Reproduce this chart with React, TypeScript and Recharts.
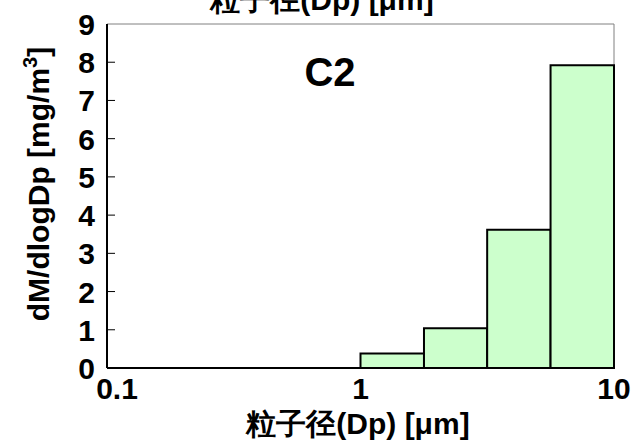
import React from "react";
import {
  ComposedChart,
  Line,
  XAxis,
  YAxis,
  ReferenceArea,
  Label,
} from "recharts";

// quarter-decade bins (µm) and mass concentration per bin
const binLower = [1.0, 1.78, 3.16, 5.62];
const binUpper = [1.78, 3.16, 5.62, 10];
const massValues = [0.38, 1.04, 3.62, 7.92];

const xTicks = [0.1, 1, 10];
const yTicks = [0, 1, 2, 3, 4, 5, 6, 7, 8, 9];

const sampleName = "C2";
const xTitle = "粒子径(Dp) [μm]";

const data = binLower.map((lo, i) => ({ x: lo, hi: binUpper[i], y: massValues[i] }));

const FONT = "'Liberation Sans', Arial, sans-serif";

function YTick(props: any) {
  const { x, y, payload } = props;
  const v = payload.value;
  return (
    <g>
      <text
        x={x}
        y={y}
        dy={11}
        textAnchor="end"
        fontFamily={FONT}
        fontWeight="bold"
        fontSize={30}
        fill="#000"
      >
        {v}
      </text>
      {v > 0 && v < 9 && (
        <line x1={x + 12} x2={x + 20} y1={y} y2={y} stroke="#000" strokeWidth={1} />
      )}
    </g>
  );
}

function XTick(props: any) {
  const { x, y, payload } = props;
  const shift = payload.value === 0.1 ? 10 : 0;
  return (
    <text
      x={x + shift}
      y={y}
      dy={31}
      textAnchor="middle"
      fontFamily={FONT}
      fontWeight="bold"
      fontSize={30}
      fill="#000"
    >
      {payload.value}
    </text>
  );
}

export default function App() {
  return (
    <div style={{ position: "absolute", left: 0, top: 0, width: 631, height: 442, background: "#fff" }}>
      <ComposedChart
        width={631}
        height={442}
        data={data}
        margin={{ top: 24, right: 17, bottom: 0, left: 0 }}
      >
        <ReferenceArea
          x1={0.1}
          x2={10}
          y1={0}
          y2={9}
          fill="none"
          stroke="#808080"
          strokeWidth={1}
          ifOverflow="visible"
        />
        {binLower.map((lo, i) => (
          <ReferenceArea
            key={i}
            x1={lo}
            x2={binUpper[i]}
            y1={0}
            y2={massValues[i]}
            fill="#ccffcc"
            fillOpacity={1}
            stroke="#000"
            strokeWidth={2}
            strokeOpacity={1}
          />
        ))}
        <ReferenceArea
          x1={0.1}
          x2={10}
          y1={0}
          y2={9}
          fill="none"
          stroke="none"
          ifOverflow="visible"
          label={
            <Label
              content={() => (
                <text
                  x={330}
                  y={86}
                  textAnchor="middle"
                  fontFamily={FONT}
                  fontWeight="bold"
                  fontSize={40}
                  fill="#000"
                >
                  {sampleName}
                </text>
              )}
            />
          }
        />
        <XAxis
          dataKey="x"
          type="number"
          scale="log"
          domain={[0.1, 10]}
          ticks={xTicks}
          allowDataOverflow
          axisLine={{ stroke: "#000", strokeWidth: 2 }}
          tickLine={false}
          tickSize={0}
          tickMargin={0}
          tick={<XTick />}
          height={74}
        >
          <Label
            content={() => (
              <g>
                <text
                  x={358}
                  y={434}
                  textAnchor="middle"
                  fontFamily={FONT}
                  fontWeight="bold"
                  fontSize={30}
                  fill="#000"
                >
                  {xTitle}
                </text>
                <text
                  x={322}
                  y={10}
                  textAnchor="middle"
                  fontFamily={FONT}
                  fontWeight="bold"
                  fontSize={30}
                  fill="#000"
                >
                  {xTitle}
                </text>
              </g>
            )}
          />
        </XAxis>
        <YAxis
          type="number"
          domain={[0, 9]}
          ticks={yTicks}
          width={107}
          allowDataOverflow
          axisLine={{ stroke: "#000", strokeWidth: 2 }}
          tickLine={false}
          tickSize={0}
          tickMargin={12}
          tick={<YTick />}
        >
          <Label
            content={() => (
              <text
                x={0}
                y={0}
                transform="translate(49,184) rotate(-90)"
                textAnchor="middle"
                fontFamily={FONT}
                fontWeight="bold"
                fontSize={30}
                fill="#000"
              >
                <tspan>dM/dlogDp [mg/m</tspan>
                <tspan fontSize={20} dy={-12}>3</tspan>
                <tspan dy={12}>]</tspan>
              </text>
            )}
          />
        </YAxis>
        <Line
          dataKey="y"
          stroke="none"
          dot={false}
          activeDot={false}
          isAnimationActive={false}
          legendType="none"
        />
      </ComposedChart>
    </div>
  );
}
